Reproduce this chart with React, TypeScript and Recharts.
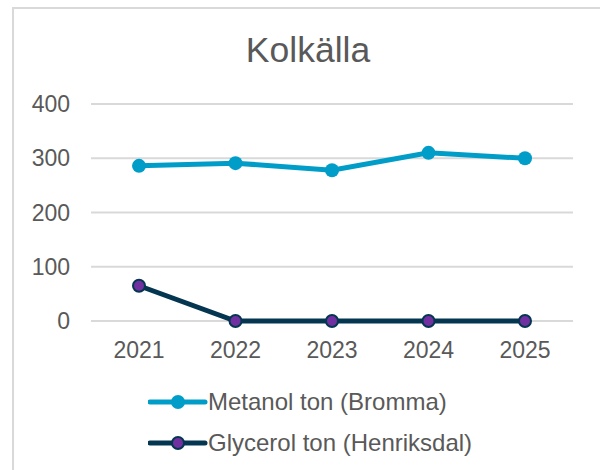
import { LineChart, Line, XAxis, YAxis, CartesianGrid, Legend } from "recharts"

const years = ['2021', '2022', '2023', '2024', '2025']
const metanol = [286, 291, 278, 310, 300]
const glycerol = [65, 0, 0, 0, 0]
const yTicks = [0, 100, 200, 300, 400]

const data = years.map((year, i) => ({ year, metanol: metanol[i], glycerol: glycerol[i] }))

const series = [
  { key: 'metanol', name: 'Metanol ton (Bromma)', stroke: '#009dc8', fill: '#009dc8', dotStroke: '#009dc8', r: 7, dotWidth: 0 },
  { key: 'glycerol', name: 'Glycerol ton (Henriksdal)', stroke: '#043651', fill: '#7030a0', dotStroke: '#043651', r: 6, dotWidth: 2 },
]

const FONT = '"Liberation Sans", Arial, sans-serif'
const TEXT = '#595959'

// legend in series order (recharts would sort it otherwise)
function LegendContent() {
  return (
    <div style={{ fontFamily: FONT, fontSize: 24, color: TEXT }}>
      {series.map(s => (
        <div key={s.key} style={{ display: 'flex', alignItems: 'center', height: 41, whiteSpace: 'nowrap' }}>
          <svg width={60} height={20} style={{ display: 'block' }}>
            <line x1={2} y1={10} x2={57} y2={10} stroke={s.stroke} strokeWidth={5} strokeLinecap="round" />
            <circle cx={30} cy={10} r={s.r} fill={s.fill} stroke={s.dotStroke} strokeWidth={s.dotWidth} />
          </svg>
          <span>{s.name}</span>
        </div>
      ))}
    </div>
  )
}

export default function App() {
  return (
    <div style={{ position: 'fixed', left: 0, top: 0, width: 600, height: 470, overflow: 'hidden', background: '#fff' }}>
      <div style={{ position: 'absolute', left: 12, top: 7, width: 620, height: 500, border: '2px solid #d9d9d9' }} />
      <div style={{ position: 'absolute', left: 0, top: 33, width: 616, textAlign: 'center', fontFamily: FONT, fontSize: 35.5, lineHeight: '35px', color: TEXT }}>
        Kolkälla
      </div>
      <div style={{ position: 'absolute', left: 0, top: 0 }}>
        <LineChart width={600} height={470} data={data} margin={{ top: 104, right: 27, left: 0, bottom: 37 }} style={{ fontFamily: FONT }}>
          <CartesianGrid vertical={false} stroke="#d9d9d9" strokeWidth={2} />
          <XAxis dataKey="year" padding={{ left: 48, right: 48 }} axisLine={false} tickLine={false} tickSize={0} tickMargin={21} tick={{ fill: TEXT, fontSize: 23 }} />
          <YAxis domain={[0, 400]} ticks={yTicks} width={91} axisLine={false} tickLine={false} tickSize={0} tickMargin={21} tick={{ fill: TEXT, fontSize: 23 }} />
          <Legend
            verticalAlign="bottom"
            content={<LegendContent />}
            wrapperStyle={{ top: 381, bottom: 'auto', left: 148, width: 'auto', height: 82 }}
          />
          {series.map(s => (
            <Line
              key={s.key}
              dataKey={s.key}
              name={s.name}
              type="linear"
              stroke={s.stroke}
              strokeWidth={5}
              dot={{ r: s.r, fill: s.fill, stroke: s.dotStroke, strokeWidth: s.dotWidth, fillOpacity: 1 }}
              activeDot={false}
              isAnimationActive={false}
            />
          ))}
        </LineChart>
      </div>
    </div>
  )
}
